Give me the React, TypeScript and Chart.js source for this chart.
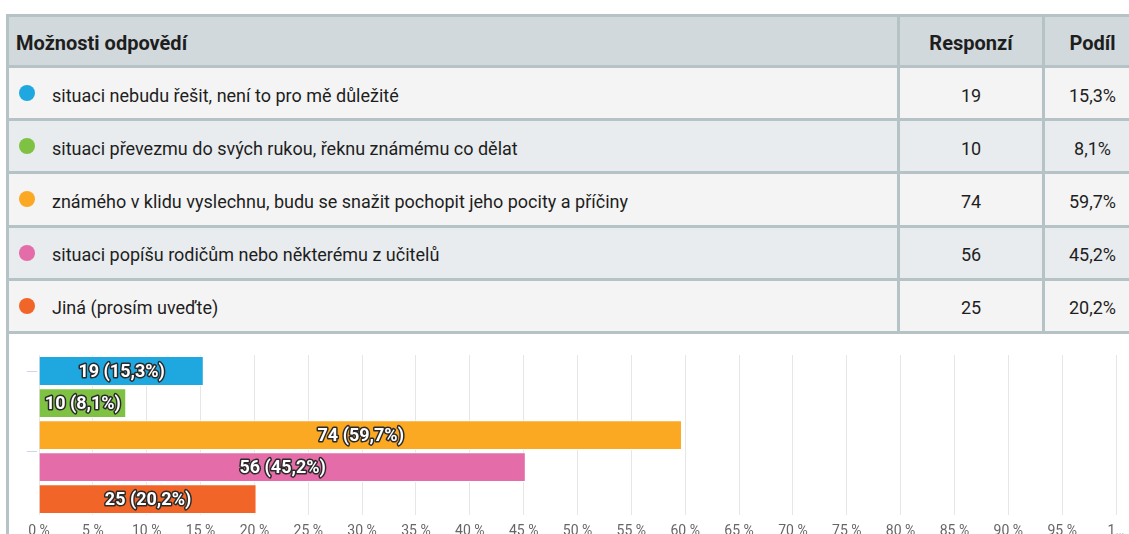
import React, { useEffect, useRef } from 'react';
import { Chart, registerables } from 'chart.js';

Chart.register(...registerables);

const categories = [
  'situaci nebudu řešit, není to pro mě důležité',
  'situaci převezmu do svých rukou, řeknu známému co dělat',
  'známého v klidu vyslechnu, budu se snažit pochopit jeho pocity a příčiny',
  'situaci popíšu rodičům nebo některému z učitelů',
  'Jiná (prosím uveďte)',
];
const responses = [19, 10, 74, 56, 25];
const shares = [15.3, 8.1, 59.7, 45.2, 20.2];
const colors = ['#1fa8e0', '#7fc143', '#fba823', '#e46ca8', '#f26529'];
const headers = ['Možnosti odpovědí', 'Responzí', 'Podíl'];
const axisTickValues = [0, 5, 10, 15, 20, 25, 30, 35, 40, 45, 50, 55, 60, 65, 70, 75, 80, 85, 90, 95, 100];
const yTickMarkValues = [0, 2.5];

const FONT = 'Roboto, "Liberation Sans", sans-serif';
const BORDER = '#b5c3c7';

const fmtPct = (v: number) => v.toFixed(1).replace('.', ',') + '%';

const barLabelPlugin = {
  id: 'barLabels',
  afterDatasetsDraw(chart: any) {
    const ctx = chart.ctx;
    const meta = chart.getDatasetMeta(0);
    ctx.save();
    ctx.font = `bold 18px ${FONT}`;
    ctx.textAlign = 'center';
    ctx.textBaseline = 'middle';
    ctx.lineJoin = 'round';
    meta.data.forEach((el: any, i: number) => {
      const text = `${responses[i]} (${fmtPct(shares[i])})`;
      const cx = (el.base + el.x) / 2;
      const cy = el.y + 1;
      ctx.lineWidth = 3;
      ctx.strokeStyle = '#2a2a2a';
      ctx.strokeText(text, cx, cy);
      ctx.fillStyle = '#ffffff';
      ctx.fillText(text, cx, cy);
    });
    ctx.restore();
  },
};

const yTickPlugin = {
  id: 'yTickMarks',
  afterDraw(chart: any) {
    const ctx = chart.ctx;
    const ys = chart.scales.y;
    const left = chart.chartArea.left;
    ctx.save();
    ctx.strokeStyle = '#ccd6eb';
    ctx.lineWidth = 1;
    yTickMarkValues.forEach((v) => {
      const y = Math.round(ys.getPixelForValue(v)) + 0.5;
      ctx.beginPath();
      ctx.moveTo(left - 12, y);
      ctx.lineTo(left - 2, y);
      ctx.stroke();
    });
    ctx.restore();
  },
};

function BarChart() {
  const ref = useRef<HTMLCanvasElement | null>(null);
  useEffect(() => {
    if (!ref.current) return;
    const chart = new Chart(ref.current, {
      type: 'bar',
      data: {
        labels: categories,
        datasets: [
          {
            data: shares,
            backgroundColor: colors,
            borderColor: '#ffffff',
            borderWidth: 1,
            categoryPercentage: 1,
            barPercentage: 0.93,
          },
        ],
      },
      options: {
        indexAxis: 'y',
        animation: false,
        responsive: true,
        maintainAspectRatio: false,
        layout: { padding: { left: 30, right: 24, top: 21, bottom: 0 } },
        plugins: { legend: { display: false }, tooltip: { enabled: false } },
        scales: {
          x: {
            type: 'linear',
            min: 0,
            max: 100,
            afterBuildTicks: (axis: any) => {
              axis.ticks = axisTickValues.map((v) => ({ value: v }));
            },
            grid: { color: '#e6e6e6', drawTicks: false },
            border: { display: false },
            ticks: {
              padding: 8,
              color: '#666666',
              font: { family: FONT, size: 14 },
              maxRotation: 0,
              autoSkip: false,
              callback: (v: any) => (v === 100 ? '1…' : `${v} %`),
            },
          },
          y: {
            type: 'category',
            display: false,
            offset: true,
            grid: { display: false },
          },
        },
      },
      plugins: [barLabelPlugin, yTickPlugin],
    } as any);
    return () => chart.destroy();
  }, []);
  return (
    <div style={{ position: 'relative', width: 1131, height: 214 }}>
      <canvas ref={ref} />
    </div>
  );
}

export default function App() {
  const cellBase: React.CSSProperties = {
    display: 'flex',
    alignItems: 'center',
    height: '100%',
    boxSizing: 'border-box',
  };
  return (
    <div
      style={{
        position: 'fixed',
        left: 0,
        top: 0,
        width: 1129,
        height: 534,
        overflow: 'hidden',
        background: '#ffffff',
        fontFamily: FONT,
        color: '#1e1e1e',
      }}
    >
      <div
        style={{
          position: 'absolute',
          left: 6,
          top: 14,
          width: 1134,
          borderTop: `3px solid ${BORDER}`,
          borderLeft: `3px solid ${BORDER}`,
          boxSizing: 'border-box',
        }}
      >
        <div
          style={{
            display: 'flex',
            height: 48,
            borderBottom: `3px solid ${BORDER}`,
            background: '#d1d9dc',
            fontWeight: 'bold',
            fontSize: 20,
          }}
        >
          <div style={{ ...cellBase, flex: '0 0 891px', paddingLeft: 7, paddingTop: 3, borderRight: `3px solid ${BORDER}` }}>
            {headers[0]}
          </div>
          <div style={{ ...cellBase, flex: '0 0 145px', paddingTop: 3, justifyContent: 'center', borderRight: `3px solid ${BORDER}` }}>
            {headers[1]}
          </div>
          <div style={{ ...cellBase, flex: '1 1 auto', paddingTop: 3, justifyContent: 'center' }}>{headers[2]}</div>
        </div>
        {categories.map((c, i) => (
          <div
            key={i}
            style={{
              display: 'flex',
              height: 50.2,
              borderBottom: `3px solid ${BORDER}`,
              background: i % 2 === 0 ? '#f4f4f4' : '#e8ecee',
              fontSize: 18,
            }}
          >
            <div style={{ ...cellBase, flex: '0 0 891px', paddingLeft: 10, borderRight: `3px solid ${BORDER}` }}>
              <span
                style={{
                  display: 'inline-block',
                  width: 16,
                  height: 16,
                  borderRadius: '50%',
                  background: colors[i],
                  marginRight: 17,
                  flex: '0 0 16px',
                }}
              />
              <span style={{ paddingTop: 4 }}>{c}</span>
            </div>
            <div style={{ ...cellBase, flex: '0 0 145px', paddingTop: 4, justifyContent: 'center', borderRight: `3px solid ${BORDER}` }}>
              {responses[i]}
            </div>
            <div style={{ ...cellBase, flex: '1 1 auto', paddingTop: 4, justifyContent: 'center' }}>{fmtPct(shares[i])}</div>
          </div>
        ))}
        <div style={{ background: '#ffffff', height: 230 }}>
          <BarChart />
        </div>
      </div>
    </div>
  );
}
